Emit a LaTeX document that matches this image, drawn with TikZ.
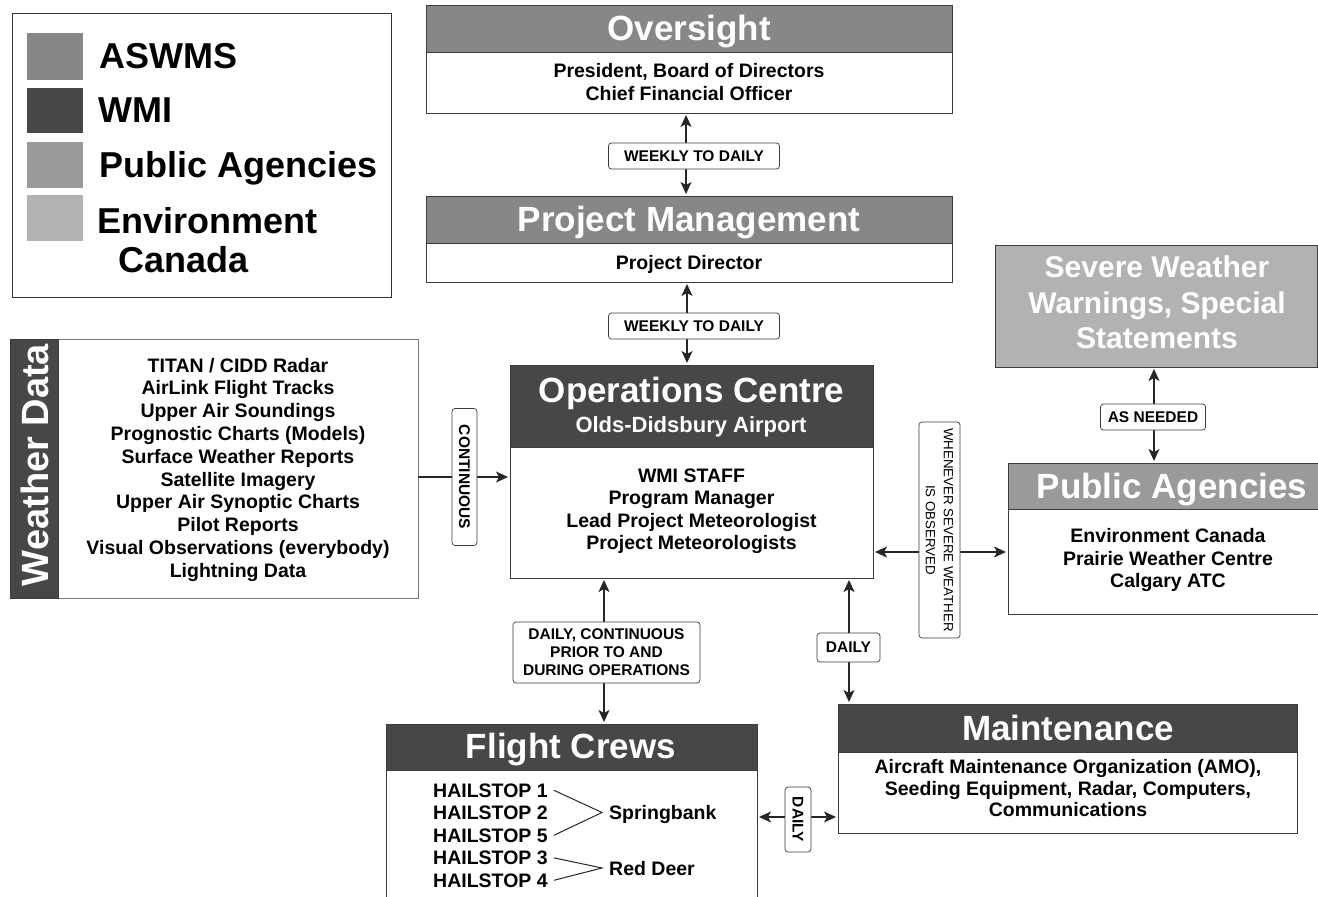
\documentclass[tikz,border=0pt]{standalone}
\usepackage{fontspec}
\setmainfont{Liberation Sans}
\usetikzlibrary{arrows.meta,calc}
\definecolor{aswms}{HTML}{878787}
\definecolor{wmi}{HTML}{474747}
\definecolor{pubag}{HTML}{9A9A9A}
\definecolor{envcan}{HTML}{B2B2B2}
\definecolor{edge}{HTML}{3C3C3C}
\newcommand{\fsz}[2]{\fontsize{#1}{#2}\selectfont}
\begin{document}
\begin{tikzpicture}[x=1pt,y=-1pt,
  box/.style={draw=edge,line width=0.9pt,inner sep=0pt,outer sep=0pt,anchor=north west},
  hdr/.style={text=white,font=\bfseries\fsz{35}{40},inner sep=0pt,anchor=base},
  txt/.style={font=\bfseries\fsz{19.5}{23},inner sep=0pt,anchor=base},
  leg/.style={font=\bfseries\fsz{36}{40},inner sep=0pt,anchor=base west},
  lbl/.style={draw=edge,fill=white,rounded corners=3pt,line width=0.7pt,inner sep=0pt,font=\bfseries\fsz{15.5}{18},align=center},
  tipA/.tip={Stealth[length=12pt,width=11pt,inset=3pt]},
  link/.style={tipA-tipA,line width=1.3pt,draw=black!85,shorten <=2pt,shorten >=2pt},
  feed/.style={-tipA,line width=1.3pt,draw=black!85,shorten >=2pt},
  chev/.style={line width=1pt,draw=black!85}
]
\useasboundingbox (0,0) rectangle (1318,897);
\fill[white] (0,0) rectangle (1318,897);

% ---------- legend ----------
\node[box,draw=black!80,minimum width=379pt,minimum height=284pt] (legend) at (12,13) {};
\node[box,draw=none,fill=aswms,minimum width=56pt,minimum height=47pt] (swA) at (27,33) {};
\node[box,draw=none,fill=wmi,minimum width=56pt,minimum height=45pt] (swB) at (27,88) {};
\node[box,draw=none,fill=pubag,minimum width=56pt,minimum height=46pt] (swC) at (27,142) {};
\node[box,draw=none,fill=envcan,minimum width=56pt,minimum height=46pt] (swD) at (27,195) {};
\node[leg] (legA) at (99,68) {ASWMS};
\node[leg] (legB) at (98,122) {WMI};
\node[leg] (legC) at (99,177) {Public Agencies};
\node[leg] (legD) at (97,233) {Environment};
\node[leg] (legE) at (118,272) {Canada};

% ---------- boxes ----------
\node[box,fill=aswms,minimum width=526pt,minimum height=47pt] (ovh) at (426,5) {};
\node[box,fill=white,minimum width=526pt,minimum height=61pt] (ovb) at (426,52) {};
\node[box,fill=aswms,minimum width=526pt,minimum height=47pt] (pmh) at (426,196) {};
\node[box,fill=white,minimum width=526pt,minimum height=39pt] (pmb) at (426,243) {};
\node[box,fill=wmi,minimum width=363pt,minimum height=82pt] (oph) at (510,365) {};
\node[box,fill=white,minimum width=363pt,minimum height=131pt] (opb) at (510,447) {};
\node[box,draw=edge!70,fill=white,minimum width=408pt,minimum height=259pt] (wdb) at (10,339) {};
\node[box,fill=wmi,minimum width=48pt,minimum height=259pt] (wds) at (10,339) {};
\node[box,fill=envcan,minimum width=322pt,minimum height=122pt] (swb) at (995,245) {};
\node[box,fill=pubag,minimum width=314pt,minimum height=46pt] (pah) at (1008,463) {};
\node[box,fill=white,minimum width=314pt,minimum height=105pt] (pab) at (1008,509) {};
\node[box,fill=wmi,minimum width=459pt,minimum height=48pt] (mh) at (838,704) {};
\node[box,fill=white,minimum width=459pt,minimum height=81pt] (mb) at (838,752) {};
\node[box,fill=wmi,minimum width=371pt,minimum height=46pt] (fch) at (386,724) {};
\node[box,draw=none,fill=white,minimum width=371pt,minimum height=128pt] (fcb) at (386,770) {};
\draw[edge,line width=0.9pt] (fcb.south west) -- (fcb.north west) -- (fcb.north east) -- (fcb.south east);

% ---------- texts ----------
\node[hdr] (ovt) at (689,40) {Oversight};
\node[txt] (ov1) at (689,77) {President, Board of Directors};
\node[txt] (ov2) at (689,100) {Chief Financial Officer};

\node[hdr] (pmt) at (689,231) {Project Management};
\node[txt] (pm1) at (689,269) {Project Director};

\node[hdr] (opt) at (691.5,402) {Operations Centre};
\node[hdr,font=\bfseries\fsz{22}{26}] (ops) at (691,432) {Olds-Didsbury Airport};
\node[txt] (op1) at (691.5,482) {WMI STAFF};
\node[txt] (op2) at (691.5,504.5) {Program Manager};
\node[txt] (op3) at (691.5,527) {Lead Project Meteorologist};
\node[txt] (op4) at (691.5,549.5) {Project Meteorologists};

\node[hdr,anchor=center,rotate=90,font=\bfseries\fsz{38}{40}] (wdt) at (35,465) {Weather Data};
\foreach \t [count=\i from 0] in {TITAN / CIDD Radar,AirLink Flight Tracks,Upper Air Soundings,Prognostic Charts (Models),Surface Weather Reports,Satellite Imagery,Upper Air Synoptic Charts,Pilot Reports,Visual Observations (everybody),Lightning Data}
  \node[txt] (wd\i) at (238,{372+22.8*\i}) {\t};

\node[hdr,font=\bfseries\fsz{30}{35}] (sw1) at (1157,277) {Severe Weather};
\node[hdr,font=\bfseries\fsz{30}{35}] (sw2) at (1157,313) {Warnings, Special};
\node[hdr,font=\bfseries\fsz{30}{35}] (sw3) at (1157,348) {Statements};

\node[hdr] (pat) at (1172,498) {Public Agencies};
\node[txt] (pa1) at (1168,542) {Environment Canada};
\node[txt] (pa2) at (1168,565) {Prairie Weather Centre};
\node[txt] (pa3) at (1168,587) {Calgary ATC};

\node[hdr] (mt) at (1068,740) {Maintenance};
\node[txt] (m1) at (1068,773.5) {Aircraft Maintenance Organization (AMO),};
\node[txt] (m2) at (1068,795) {Seeding Equipment, Radar, Computers,};
\node[txt] (m3) at (1068,816.5) {Communications};

\node[hdr] (fct) at (571,758) {Flight Crews};
\node[txt,anchor=base west] (h1) at (433,797) {HAILSTOP 1};
\node[txt,anchor=base west] (h2) at (433,819.5) {HAILSTOP 2};
\node[txt,anchor=base west] (h5) at (433,842) {HAILSTOP 5};
\node[txt,anchor=base west] (h3) at (433,864.5) {HAILSTOP 3};
\node[txt,anchor=base west] (h4) at (433,887) {HAILSTOP 4};
\node[txt,anchor=base west] (sb) at (609,819.5) {Springbank};
\node[txt,anchor=base west] (rd) at (609,875) {Red Deer};
\draw[chev] ($(h1.east)+(6,0)$) -- ($(sb.base west)+(-7,-7)$) -- ($(h5.east)+(6,0)$);
\draw[chev] ($(h3.east)+(6,0)$) -- ($(rd.base west)+(-7,-7)$) -- ($(h4.east)+(6,0)$);

% ---------- connector anchors ----------
\coordinate (axA) at (686,150);
\coordinate (axB) at (687,320);
\coordinate (axC) at (1154,417);
\coordinate (axD) at (604,650);
\coordinate (axE) at (849,650);
\coordinate (sevy) at (940,552);
\coordinate (conty) at (465,477);
\coordinate (fdy) at (798,817);

% ---------- connectors ----------
\draw[link] (ovb.south -| axA) -- (pmh.north -| axA);
\draw[link] (pmb.south -| axB) -- (oph.north -| axB);
\draw[feed] (wdb.east |- conty) -- (opb.west |- conty);
\draw[link] (opb.east |- sevy) -- (pab.west |- sevy);
\draw[link] (swb.south -| axC) -- (pah.north -| axC);
\draw[link] (opb.south -| axD) -- (fch.north -| axD);
\draw[link] (opb.south -| axE) -- (mh.north -| axE);
\draw[link] (fcb.east |- fdy) -- (mb.west |- fdy);

% ---------- labels ----------
\node[lbl,minimum width=171pt,minimum height=26pt] (l1) at (694,156) {WEEKLY TO DAILY};
\node[lbl,minimum width=171pt,minimum height=26pt] (l2) at (694,326) {WEEKLY TO DAILY};
\node[lbl,rotate=-90,minimum width=137pt,minimum height=25pt] (lcont) at (464.5,477) {CONTINUOUS};
\node[lbl,rotate=-90,font=\fsz{13.3}{18},minimum width=216pt,minimum height=41pt] (lsev) at (939.5,530) {WHENEVER SEVERE WEATHER\\IS OBSERVED};
\node[lbl,minimum width=105pt,minimum height=26pt] (lasn) at (1153,417) {AS NEEDED};
\node[lbl,minimum width=187pt,minimum height=61pt] (ldc) at (606.5,652.5) {DAILY, CONTINUOUS\\PRIOR TO AND\\DURING OPERATIONS};
\node[lbl,minimum width=63pt,minimum height=29pt] (lmd) at (848.5,647.5) {DAILY};
\node[lbl,rotate=-90,minimum width=65pt,minimum height=26pt] (lfd) at (798,819.5) {DAILY};
\end{tikzpicture}
\end{document}
